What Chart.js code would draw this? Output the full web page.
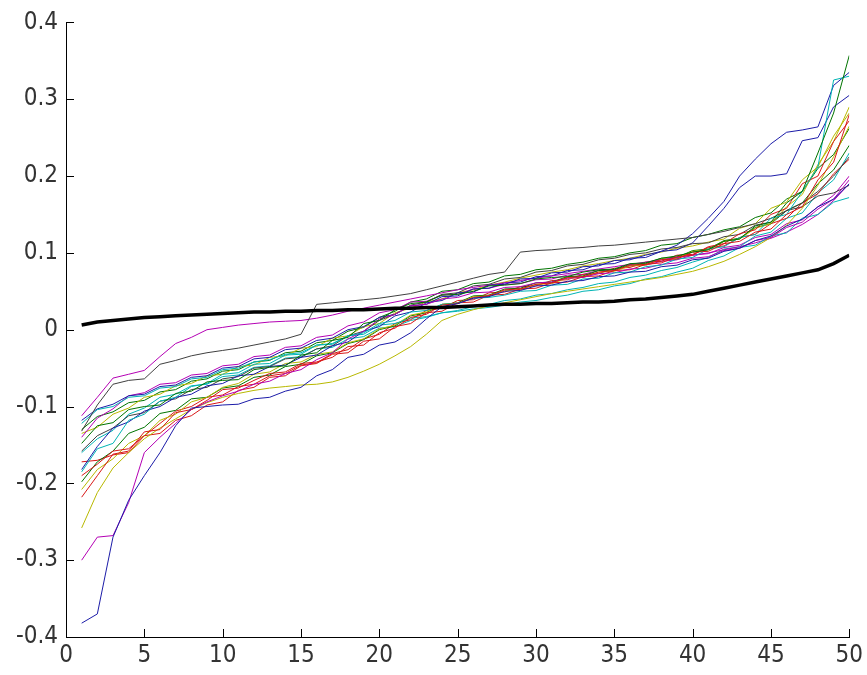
<!DOCTYPE html>
<html>
<head>
<meta charset="utf-8">
<script src="https://cdn.jsdelivr.net/npm/chart.js@4"></script>
<style>
  html, body { margin: 0; padding: 0; background: #fff; }
  canvas { display: block; }
</style>
</head>
<body>
<canvas id="chart" width="867" height="675"></canvas>
<script>
// x positions (sorted sample index)
const x_values = [];
for (let i = 1; i <= 50; i++) x_values.push(i);

// thick black reference curve
const black_line = [
    0.006, 0.010, 0.012, 0.014, 0.016, 0.017, 0.018, 0.019, 0.020, 0.021,
    0.022, 0.023, 0.023, 0.024, 0.024, 0.025, 0.025, 0.026, 0.026, 0.027,
    0.028, 0.028, 0.029, 0.029, 0.030, 0.031, 0.032, 0.033, 0.033, 0.034,
    0.034, 0.035, 0.036, 0.036, 0.037, 0.039, 0.040, 0.042, 0.044, 0.046,
    0.050, 0.054, 0.058, 0.062, 0.066, 0.070, 0.074, 0.078, 0.086, 0.097
];

// the thin coloured curves
const s01 = [
    -0.382, -0.370, -0.270, -0.222, -0.190, -0.160, -0.125, -0.102, -0.100, -0.098,
    -0.097, -0.090, -0.088, -0.080, -0.075, -0.060, -0.052, -0.036, -0.032, -0.020,
    -0.016, -0.004, 0.014, 0.030, 0.034, 0.041, 0.043, 0.050, 0.051, 0.057,
    0.058, 0.063, 0.064, 0.069, 0.070, 0.075, 0.076, 0.082, 0.084, 0.091,
    0.093, 0.102, 0.106, 0.116, 0.122, 0.135, 0.144, 0.160, 0.170, 0.190
];
const s02 = [
    -0.148, -0.125, -0.121, -0.104, -0.100, -0.098, -0.083, -0.080, -0.068, -0.066,
    -0.065, -0.052, -0.049, -0.047, -0.033, -0.030, -0.014, -0.010, 0.008, 0.012,
    0.026, 0.034, 0.036, 0.045, 0.046, 0.050, 0.057, 0.058, 0.060, 0.066,
    0.068, 0.069, 0.075, 0.078, 0.079, 0.086, 0.087, 0.093, 0.096, 0.101,
    0.104, 0.115, 0.118, 0.135, 0.140, 0.165, 0.180, 0.230, 0.282, 0.357
];
const s03 = [
    -0.218, -0.190, -0.162, -0.158, -0.133, -0.130, -0.108, -0.104, -0.092, -0.078,
    -0.076, -0.066, -0.057, -0.055, -0.044, -0.042, -0.036, -0.022, -0.020, -0.004,
    0.002, 0.016, 0.020, 0.032, 0.034, 0.042, 0.044, 0.052, 0.053, 0.059,
    0.061, 0.068, 0.069, 0.075, 0.077, 0.084, 0.085, 0.091, 0.092, 0.101,
    0.102, 0.112, 0.115, 0.127, 0.131, 0.150, 0.160, 0.195, 0.218, 0.280
];
const s04 = [
    -0.185, -0.155, -0.148, -0.118, -0.110, -0.093, -0.088, -0.074, -0.070, -0.058,
    -0.056, -0.045, -0.044, -0.033, -0.032, -0.020, -0.019, -0.008, -0.004, 0.008,
    0.012, 0.023, 0.025, 0.033, 0.034, 0.041, 0.042, 0.045, 0.050, 0.051,
    0.058, 0.059, 0.066, 0.067, 0.074, 0.075, 0.082, 0.084, 0.092, 0.094,
    0.105, 0.108, 0.120, 0.124, 0.145, 0.150, 0.180, 0.212, 0.325, 0.330
];
const s05 = [
    -0.300, -0.270, -0.268, -0.225, -0.160, -0.140, -0.122, -0.104, -0.094, -0.086,
    -0.080, -0.071, -0.067, -0.057, -0.052, -0.039, -0.030, -0.012, -0.002, 0.014,
    0.020, 0.031, 0.033, 0.040, 0.042, 0.048, 0.049, 0.055, 0.056, 0.061,
    0.062, 0.067, 0.068, 0.073, 0.074, 0.079, 0.080, 0.085, 0.087, 0.093,
    0.095, 0.103, 0.106, 0.116, 0.120, 0.133, 0.140, 0.157, 0.170, 0.195
];
const s06 = [
    -0.258, -0.212, -0.180, -0.160, -0.142, -0.128, -0.116, -0.104, -0.095, -0.088,
    -0.083, -0.079, -0.076, -0.074, -0.072, -0.071, -0.068, -0.062, -0.054, -0.045,
    -0.034, -0.022, -0.006, 0.012, 0.020, 0.026, 0.031, 0.035, 0.039, 0.043,
    0.047, 0.050, 0.053, 0.056, 0.059, 0.062, 0.065, 0.068, 0.072, 0.076,
    0.082, 0.089, 0.098, 0.108, 0.120, 0.136, 0.158, 0.188, 0.225, 0.265
];
const s07 = [
    -0.132, -0.098, -0.071, -0.066, -0.064, -0.045, -0.040, -0.034, -0.030, -0.027,
    -0.024, -0.020, -0.016, -0.012, -0.006, 0.033, 0.035, 0.037, 0.039, 0.041,
    0.044, 0.047, 0.052, 0.057, 0.062, 0.067, 0.072, 0.075, 0.101, 0.103,
    0.104, 0.106, 0.107, 0.109, 0.110, 0.112, 0.114, 0.116, 0.118, 0.120,
    0.124, 0.128, 0.133, 0.138, 0.145, 0.155, 0.165, 0.180, 0.200, 0.225
];
const s08 = [
    -0.182, -0.152, -0.128, -0.120, -0.106, -0.100, -0.088, -0.084, -0.073, -0.070,
    -0.060, -0.058, -0.048, -0.046, -0.036, -0.033, -0.021, -0.016, -0.002, 0.004,
    0.018, 0.023, 0.035, 0.038, 0.048, 0.049, 0.058, 0.059, 0.066, 0.067,
    0.074, 0.075, 0.082, 0.083, 0.090, 0.091, 0.097, 0.102, 0.110, 0.125,
    0.145, 0.167, 0.200, 0.222, 0.242, 0.257, 0.260, 0.264, 0.318, 0.335
];
const s09 = [
    -0.190, -0.175, -0.158, -0.155, -0.138, -0.135, -0.118, -0.112, -0.098, -0.094,
    -0.079, -0.075, -0.062, -0.060, -0.047, -0.044, -0.032, -0.030, -0.015, -0.012,
    0.004, 0.008, 0.022, 0.024, 0.035, 0.036, 0.045, 0.046, 0.053, 0.054,
    0.061, 0.062, 0.069, 0.070, 0.077, 0.078, 0.085, 0.087, 0.095, 0.097,
    0.108, 0.112, 0.125, 0.130, 0.150, 0.158, 0.190, 0.200, 0.245, 0.272
];
const s10 = [
    -0.122, -0.104, -0.100, -0.088, -0.086, -0.076, -0.074, -0.064, -0.062, -0.052,
    -0.050, -0.042, -0.039, -0.032, -0.030, -0.020, -0.018, -0.008, -0.006, 0.006,
    0.008, 0.015, 0.017, 0.022, 0.024, 0.027, 0.029, 0.032, 0.036, 0.038,
    0.042, 0.045, 0.050, 0.052, 0.057, 0.060, 0.066, 0.069, 0.075, 0.080,
    0.090, 0.096, 0.107, 0.110, 0.122, 0.126, 0.145, 0.150, 0.166, 0.172
];
const s11 = [
    -0.112, -0.088, -0.063, -0.058, -0.053, -0.035, -0.018, -0.010, 0.000, 0.003,
    0.006, 0.008, 0.010, 0.011, 0.012, 0.015, 0.019, 0.024, 0.028, 0.032,
    0.036, 0.040, 0.044, 0.048, 0.052, 0.055, 0.058, 0.061, 0.064, 0.067,
    0.070, 0.073, 0.076, 0.079, 0.082, 0.085, 0.088, 0.091, 0.094, 0.097,
    0.100, 0.104, 0.108, 0.113, 0.119, 0.127, 0.137, 0.150, 0.168, 0.190
];
const s12 = [
    -0.208, -0.182, -0.168, -0.148, -0.138, -0.118, -0.110, -0.094, -0.088, -0.075,
    -0.070, -0.058, -0.055, -0.044, -0.042, -0.032, -0.029, -0.017, -0.012, 0.001,
    0.006, 0.019, 0.023, 0.033, 0.034, 0.043, 0.044, 0.051, 0.052, 0.059,
    0.060, 0.067, 0.068, 0.075, 0.076, 0.083, 0.084, 0.092, 0.093, 0.102,
    0.104, 0.115, 0.118, 0.132, 0.138, 0.160, 0.176, 0.215, 0.245, 0.290
];
const s13 = [
    -0.158, -0.138, -0.128, -0.112, -0.108, -0.093, -0.090, -0.078, -0.075, -0.064,
    -0.061, -0.050, -0.048, -0.038, -0.036, -0.025, -0.021, -0.008, -0.002, 0.012,
    0.020, 0.032, 0.036, 0.046, 0.048, 0.057, 0.059, 0.066, 0.068, 0.075,
    0.077, 0.083, 0.085, 0.091, 0.093, 0.098, 0.100, 0.105, 0.107, 0.112,
    0.113, 0.121, 0.124, 0.136, 0.140, 0.155, 0.160, 0.174, 0.178, 0.188
];
const s14 = [
    -0.118, -0.103, -0.097, -0.086, -0.084, -0.074, -0.072, -0.062, -0.060, -0.050,
    -0.048, -0.038, -0.036, -0.026, -0.024, -0.014, -0.011, 0.000, 0.004, 0.016,
    0.020, 0.031, 0.033, 0.043, 0.044, 0.053, 0.054, 0.061, 0.062, 0.069,
    0.070, 0.077, 0.078, 0.085, 0.086, 0.093, 0.094, 0.102, 0.104, 0.113,
    0.135, 0.158, 0.185, 0.200, 0.200, 0.203, 0.246, 0.250, 0.290, 0.305
];
const s15 = [
    -0.198, -0.172, -0.158, -0.135, -0.127, -0.109, -0.105, -0.090, -0.088, -0.076,
    -0.073, -0.062, -0.059, -0.048, -0.045, -0.034, -0.030, -0.018, -0.013, 0.000,
    0.005, 0.018, 0.022, 0.033, 0.035, 0.044, 0.045, 0.053, 0.054, 0.061,
    0.062, 0.069, 0.070, 0.077, 0.078, 0.085, 0.086, 0.093, 0.094, 0.103,
    0.105, 0.116, 0.119, 0.133, 0.138, 0.155, 0.165, 0.190, 0.208, 0.240
];
const s16 = [
    -0.172, -0.170, -0.163, -0.160, -0.138, -0.122, -0.106, -0.100, -0.088, -0.085,
    -0.074, -0.071, -0.060, -0.057, -0.046, -0.043, -0.031, -0.026, -0.012, -0.006,
    0.008, 0.013, 0.025, 0.028, 0.038, 0.039, 0.048, 0.049, 0.056, 0.057,
    0.064, 0.065, 0.072, 0.073, 0.080, 0.081, 0.088, 0.089, 0.097, 0.098,
    0.107, 0.109, 0.120, 0.124, 0.138, 0.145, 0.165, 0.177, 0.203, 0.222
];
const s17 = [
    -0.160, -0.142, -0.131, -0.110, -0.102, -0.088, -0.084, -0.073, -0.071, -0.061,
    -0.059, -0.049, -0.047, -0.037, -0.035, -0.025, -0.023, -0.012, -0.009, 0.002,
    0.004, 0.012, 0.016, 0.022, 0.025, 0.030, 0.033, 0.038, 0.040, 0.045,
    0.047, 0.052, 0.055, 0.060, 0.062, 0.068, 0.071, 0.077, 0.081, 0.088,
    0.094, 0.105, 0.108, 0.122, 0.127, 0.145, 0.152, 0.178, 0.195, 0.230
];
const s18 = [
    -0.140, -0.115, -0.103, -0.086, -0.082, -0.071, -0.069, -0.059, -0.057, -0.047,
    -0.045, -0.035, -0.033, -0.023, -0.021, -0.010, -0.007, 0.005, 0.010, 0.022,
    0.026, 0.036, 0.037, 0.045, 0.046, 0.053, 0.054, 0.059, 0.060, 0.065,
    0.066, 0.071, 0.072, 0.077, 0.078, 0.083, 0.084, 0.089, 0.091, 0.097,
    0.099, 0.107, 0.110, 0.120, 0.124, 0.138, 0.143, 0.160, 0.175, 0.200
];
const s19 = [
    -0.135, -0.127, -0.110, -0.102, -0.088, -0.084, -0.073, -0.070, -0.060, -0.058,
    -0.048, -0.046, -0.036, -0.034, -0.024, -0.022, -0.011, -0.008, 0.004, 0.008,
    0.022, 0.028, 0.036, 0.040, 0.048, 0.052, 0.058, 0.062, 0.067, 0.071,
    0.075, 0.078, 0.083, 0.086, 0.090, 0.093, 0.098, 0.101, 0.106, 0.109,
    0.114, 0.118, 0.132, 0.138, 0.158, 0.166, 0.195, 0.212, 0.252, 0.282
];
const s20 = [
    -0.130, -0.113, -0.107, -0.095, -0.092, -0.081, -0.078, -0.067, -0.064, -0.054,
    -0.052, -0.042, -0.040, -0.030, -0.028, -0.017, -0.014, -0.002, 0.003, 0.016,
    0.024, 0.036, 0.040, 0.050, 0.052, 0.060, 0.062, 0.070, 0.072, 0.078,
    0.080, 0.085, 0.088, 0.093, 0.095, 0.100, 0.103, 0.110, 0.112, 0.120,
    0.124, 0.130, 0.134, 0.146, 0.152, 0.170, 0.180, 0.210, 0.228, 0.262
];

const thin_series = [s01, s02, s03, s04, s05, s06, s07, s08, s09, s10,
                     s11, s12, s13, s14, s15, s16, s17, s18, s19, s20];

// matlab-ish line colours (b g r c m y k)
const palette = {
    b: "#1c1ca8", g: "#007400", r: "#d81818", c: "#00b4b4",
    m: "#b400b4", y: "#b8b800", k: "#404040",
};
const series_colors = ["b", "g", "r", "c", "m", "y", "k", "b", "r", "c",
                       "m", "y", "k", "b", "g", "r", "c", "m", "y", "g"];

const x_ticks = [0, 5, 10, 15, 20, 25, 30, 35, 40, 45, 50];
const y_ticks = [-0.4, -0.3, -0.2, -0.1, 0, 0.1, 0.2, 0.3, 0.4];

function to_points(values){
    return values.map((v, i) => ({x: x_values[i], y: v}));
}

let datasets = [
    {
        data: to_points(black_line),
        borderColor: "#000",
        borderWidth: 3.5,
    },
];
thin_series.forEach((s, i) => {
    datasets.push({
        data: to_points(s),
        borderColor: palette[series_colors[i]],
        borderWidth: 1,
    });
});

const tick_font = {
    family: "'Liberation Sans Narrow', 'DejaVu Sans Condensed', 'Liberation Sans', Arial, sans-serif",
    size: 24,
};

// matlab draws its ticks pointing into the plot
const inward_ticks = {
    id: "inward_ticks",
    afterDraw(chart){
        const c = chart.ctx;
        const xs = chart.scales.x;
        const ys = chart.scales.y;
        const len = 8;
        c.save();
        c.strokeStyle = "#000";
        c.lineWidth = 1;
        c.beginPath();
        x_ticks.forEach(t => {
            const px = Math.round(xs.getPixelForValue(t)) + 0.5;
            c.moveTo(px, ys.bottom);
            c.lineTo(px, ys.bottom - len);
        });
        y_ticks.forEach(t => {
            const py = Math.round(ys.getPixelForValue(t)) + 0.5;
            c.moveTo(xs.left, py);
            c.lineTo(xs.left + len, py);
        });
        c.stroke();
        c.restore();
    }
};

const ctx = document.getElementById("chart");

let chart = new Chart(ctx, {
    type: "line",
    data: { datasets: datasets },
    options: {
        responsive: false,
        animation: false,
        events: [],
        layout: { padding: { top: 20, right: 17, left: 0, bottom: 0 } },
        elements: {
            point: { radius: 0 },
            line: { tension: 0, borderJoinStyle: "miter" },
        },
        plugins: {
            legend: { display: false },
            tooltip: { enabled: false },
        },
        scales: {
            x: {
                type: "linear",
                min: 0,
                max: 50,
                afterFit: s => { s.height = 38; },
                afterBuildTicks: s => { s.ticks = x_ticks.map(v => ({value: v})); },
                grid: { display: false, drawTicks: false },
                border: { display: true, color: "#000", width: 1 },
                ticks: {
                    color: "#333",
                    font: tick_font,
                    padding: 4,
                    maxRotation: 0,
                    callback: v => String(v),
                },
            },
            y: {
                type: "linear",
                min: -0.4,
                max: 0.4,
                afterFit: s => { s.width = 66; },
                afterBuildTicks: s => { s.ticks = y_ticks.map(v => ({value: v})); },
                grid: { display: false, drawTicks: false },
                border: { display: true, color: "#000", width: 1 },
                ticks: {
                    color: "#333",
                    font: tick_font,
                    padding: 8,
                    callback: v => String(Number(v.toFixed(1))),
                },
            },
        },
    },
    plugins: [inward_ticks],
});
</script>
</body>
</html>
